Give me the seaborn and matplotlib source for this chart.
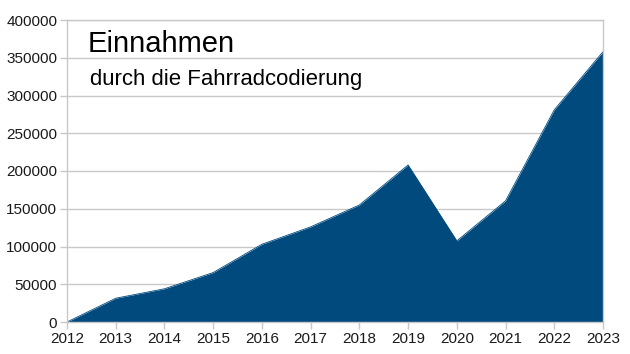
import matplotlib
matplotlib.use("Agg")
import matplotlib.pyplot as plt
import seaborn as sns
import pandas as pd

# Einnahmen pro Jahr
jahre = [2012, 2013, 2014, 2015, 2016, 2017, 2018, 2019, 2020, 2021, 2022, 2023]
einnahmen = [0, 31500, 44000, 65500, 103000, 126000, 155000, 208000, 107500, 160500, 281000, 358000]
y_ticks = [0, 50000, 100000, 150000, 200000, 250000, 300000, 350000, 400000]

df = pd.DataFrame({"Jahr": jahre, "Einnahmen": einnahmen})

sns.set_theme(style="whitegrid")
plt.rcParams['font.family'] = ['Liberation Sans', 'DejaVu Sans']

fig = plt.figure(figsize=(6.3, 3.54), dpi=100)
ax = fig.add_axes([67 / 630, 1 - 322 / 354, (603 - 67) / 630, (322 - 20) / 354])

farbe = "#004a7e"
sns.lineplot(data=df, x="Jahr", y="Einnahmen", ax=ax, color=farbe, linewidth=0.6)
ax.fill_between(df["Jahr"], df["Einnahmen"], color=farbe, linewidth=0)

ax.set_xlim(jahre[0], jahre[-1])
ax.set_ylim(0, 400000)
ax.set_xticks(jahre)
ax.set_yticks(y_ticks)
ax.set_xlabel("")
ax.set_ylabel("")
ax.xaxis.grid(False)
ax.yaxis.grid(True, color="#c8c8c8", linewidth=1.0)
ax.set_axisbelow(True)

for side, sp in ax.spines.items():
    sp.set_color("#c8c8c8")
    sp.set_linewidth(1.0)
    sp.set_visible(True)

ax.tick_params(axis="both", which="major", length=5, width=1.0, color="#c8c8c8",
               labelsize=11, labelcolor="#1a1a1a", pad=2, bottom=True, left=True)

fig.text(88 / 630, 1 - 52 / 354, "Einnahmen", fontsize=21, color="black", va="baseline", ha="left")
fig.text(90 / 630, 1 - 85 / 354, "durch die Fahrradcodierung", fontsize=15.9, color="black",
         va="baseline", ha="left")

fig.savefig("out.png", dpi=100, facecolor="white")
